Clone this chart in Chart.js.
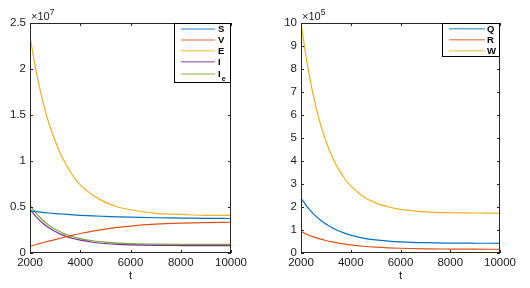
<!DOCTYPE html>
<html>
<head>
<meta charset="utf-8">
<script src="https://cdn.jsdelivr.net/npm/chart.js@4.4.0/dist/chart.umd.min.js"></script>
<style>
  body { margin: 0; background: #fff; width: 530px; height: 288px; overflow: hidden; position: relative; }
  canvas { position: absolute; top: 0; }
</style>
</head>
<body>
<canvas id="left" width="265" height="288" style="left:0"></canvas>
<canvas id="right" width="265" height="288" style="left:265px"></canvas>
<script>
// time points
const t = [2000, 2250, 2500, 2750, 3000, 3250, 3500, 3750, 4000, 4500, 5000, 5500, 6000, 7000, 8000, 9000, 10000];

// left panel, values x 10^7
const S  = [0.457, 0.449, 0.442, 0.435, 0.429, 0.424, 0.419, 0.414, 0.410, 0.403, 0.398, 0.393, 0.389, 0.383, 0.380, 0.377, 0.375];
const V  = [0.073, 0.092, 0.111, 0.129, 0.146, 0.163, 0.180, 0.197, 0.212, 0.238, 0.260, 0.278, 0.293, 0.313, 0.324, 0.330, 0.334];
const E  = [2.35, 1.97, 1.66, 1.41, 1.22, 1.056, 0.93, 0.825, 0.74, 0.63, 0.55, 0.50, 0.47, 0.43, 0.42, 0.41, 0.41];
const I  = [0.475, 0.392, 0.326, 0.274, 0.233, 0.200, 0.175, 0.155, 0.139, 0.117, 0.103, 0.094, 0.089, 0.083, 0.081, 0.080, 0.080];
const Ie = [0.520, 0.430, 0.359, 0.302, 0.258, 0.223, 0.195, 0.174, 0.157, 0.133, 0.118, 0.108, 0.102, 0.097, 0.094, 0.093, 0.093];

// right panel, values x 10^5
const Q = [2.38, 2.01, 1.70, 1.46, 1.26, 1.10, 0.97, 0.863, 0.78, 0.65, 0.57, 0.52, 0.485, 0.448, 0.432, 0.425, 0.422];
const R = [0.93, 0.806, 0.703, 0.616, 0.543, 0.481, 0.430, 0.386, 0.350, 0.294, 0.254, 0.226, 0.207, 0.183, 0.172, 0.166, 0.163];
const W = [10.0, 8.22, 6.82, 5.72, 4.86, 4.19, 3.66, 3.24, 2.92, 2.46, 2.18, 2.01, 1.90, 1.79, 1.75, 1.74, 1.73];

const xTicks = [2000, 4000, 6000, 8000, 10000];
const leftLabels = ['S', 'V', 'E', 'I', 'I_e'];
const rightLabels = ['Q', 'R', 'W'];

const BLUE = '#0072BD', ORANGE = '#D95319', YELLOW = '#EDB120', PURPLE = '#7E2F8E', GREEN = '#77AC30';
const AXIS = '#1a1a1a';
const FONT = '"Liberation Sans", Arial, sans-serif';

function series(vals, label, color) {
  return {
    label: label,
    data: t.map((x, i) => ({ x: x, y: vals[i] })),
    borderColor: color,
    borderWidth: 1.2,
    pointRadius: 0,
    fill: false,
    cubicInterpolationMode: 'monotone'
  };
}

// box, inner tick marks, exponent and legend, MATLAB style
const framePlugin = {
  id: 'frame',
  afterDraw(chart, args, opts) {
    const { ctx, chartArea: a, scales: { x, y } } = chart;
    ctx.save();
    ctx.strokeStyle = '#262626';
    ctx.lineWidth = 1;
    ctx.strokeRect(a.left + 0.5, a.top + 0.5, a.right - a.left - 1, a.bottom - a.top - 1);

    ctx.beginPath();
    x.ticks.forEach(tk => {
      const px = Math.round(x.getPixelForValue(tk.value)) + 0.5;
      ctx.moveTo(px, a.bottom); ctx.lineTo(px, a.bottom - 3);
      ctx.moveTo(px, a.top); ctx.lineTo(px, a.top + 3);
    });
    y.ticks.forEach(tk => {
      const py = Math.round(y.getPixelForValue(tk.value)) + 0.5;
      ctx.moveTo(a.left, py); ctx.lineTo(a.left + 3, py);
      ctx.moveTo(a.right, py); ctx.lineTo(a.right - 3, py);
    });
    ctx.stroke();

    // x 10^n
    ctx.fillStyle = AXIS;
    ctx.textBaseline = 'alphabetic';
    ctx.font = '11px ' + FONT;
    ctx.fillText('\u00d710', a.left + 1, a.top - 3);
    const w = ctx.measureText('\u00d710').width;
    ctx.font = '8.5px ' + FONT;
    ctx.fillText(opts.exp, a.left + 1 + w, a.top - 8);

    // legend
    const lg = opts.legend;
    const bx = a.right - lg.width, by = a.top;
    ctx.fillStyle = '#fff';
    ctx.fillRect(bx, by, lg.width, lg.height);
    ctx.strokeStyle = '#000';
    ctx.strokeRect(bx + 0.5, by + 0.5, lg.width - 1, lg.height - 1);
    chart.data.datasets.forEach((ds, i) => {
      const ry = by + lg.rows[i];
      ctx.globalAlpha = 0.6;
      ctx.strokeStyle = ds.borderColor;
      ctx.lineWidth = 1.6;
      ctx.beginPath();
      ctx.moveTo(bx + lg.x0, ry); ctx.lineTo(bx + lg.x1, ry);
      ctx.stroke();
      ctx.globalAlpha = 1;
      ctx.fillStyle = '#000';
      ctx.textBaseline = 'middle';
      const parts = ds.label.split('_');
      ctx.font = 'bold 9.5px ' + FONT;
      ctx.fillText(parts[0], bx + lg.tx, ry + 0.5);
      if (parts[1]) {
        const pw = ctx.measureText(parts[0]).width;
        ctx.font = 'bold 7px ' + FONT;
        ctx.fillText(parts[1], bx + lg.tx + pw + 1, ry + 5);
      }
    });
    ctx.restore();
  }
};

function makeChart(id, datasets, yMax, yStep, yWidth, padRight, exp, legend) {
  return new Chart(document.getElementById(id), {
    type: 'line',
    data: { datasets: datasets },
    plugins: [framePlugin],
    options: {
      responsive: false,
      animation: false,
      devicePixelRatio: 1,
      layout: { padding: { top: 23, right: padRight, left: 0, bottom: 0 } },
      plugins: {
        legend: { display: false },
        tooltip: { enabled: false },
        frame: { exp: exp, legend: legend }
      },
      scales: {
        x: {
          type: 'linear', min: 2000, max: 10000,
          afterBuildTicks: s => { s.ticks = xTicks.map(v => ({ value: v })); },
          afterFit: s => { s.height = 35; },
          grid: { display: false, drawTicks: false },
          border: { display: false },
          ticks: { padding: 3, color: AXIS, font: { family: FONT, size: 11.5 }, callback: v => String(v), maxRotation: 0 },
          title: { display: true, text: 't', color: AXIS, font: { family: FONT, size: 11.5 }, padding: { top: 0, bottom: 5 } }
        },
        y: {
          min: 0, max: yMax,
          afterFit: s => { s.width = yWidth; },
          grid: { display: false, drawTicks: false },
          border: { display: false },
          ticks: { stepSize: yStep, padding: 4, color: AXIS, font: { family: FONT, size: 11.5 }, callback: v => String(v) }
        }
      }
    }
  });
}

makeChart('left', [
  series(S, leftLabels[0], BLUE),
  series(V, leftLabels[1], ORANGE),
  series(E, leftLabels[2], YELLOW),
  series(I, leftLabels[3], PURPLE),
  series(Ie, leftLabels[4], GREEN)
], 2.5, 0.5, 30, 34, '7', { width: 57, height: 60, rows: [6, 17, 27.7, 38.7, 51], x0: 7, x1: 41, tx: 44 });

makeChart('right', [
  series(Q, rightLabels[0], BLUE),
  series(R, rightLabels[1], ORANGE),
  series(W, rightLabels[2], YELLOW)
], 10, 1, 36, 30, '5', { width: 58, height: 34, rows: [5.7, 16.7, 27.7], x0: 7, x1: 43, tx: 45 });
</script>
</body>
</html>
